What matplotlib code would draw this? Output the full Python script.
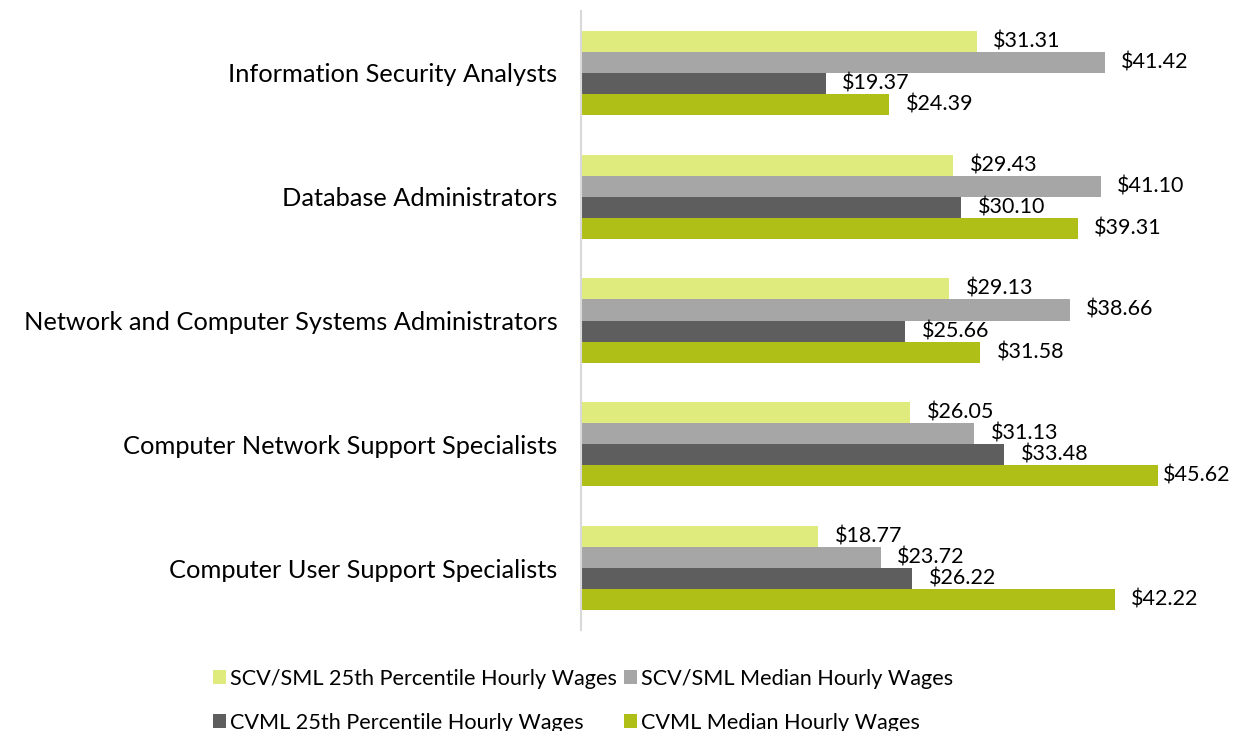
import matplotlib
matplotlib.use("Agg")
import matplotlib.pyplot as plt
import numpy as np

categories = ["Information Security Analysts", "Database Administrators",
              "Network and Computer Systems Administrators",
              "Computer Network Support Specialists",
              "Computer User Support Specialists"]
series_names = ["SCV/SML 25th Percentile Hourly Wages", "SCV/SML Median Hourly Wages",
                "CVML 25th Percentile Hourly Wages", "CVML Median Hourly Wages"]
scv_25 = [31.31, 29.43, 29.13, 26.05, 18.77]
scv_med = [41.42, 41.10, 38.66, 31.13, 23.72]
cvml_25 = [19.37, 30.10, 25.66, 33.48, 26.22]
cvml_med = [24.39, 39.31, 31.58, 45.62, 42.22]
colors = ["#E0EB7E", "#A6A6A6", "#5E5E5E", "#AFBF17"]

plt.rcParams['font.family'] = ['Lato', 'DejaVu Sans']

fig = plt.figure(figsize=(12.35, 7.31), dpi=100)
ax = fig.add_axes([581/1235, 101/731, 632/1235, 619/731])

data = [scv_25, scv_med, cvml_25, cvml_med]
n = len(categories)
y = np.arange(n)
h = 0.17
handles = []
for i, (vals, c, name) in enumerate(zip(data, colors, series_names)):
    pos = y + (i - 1.5) * h
    b = ax.barh(pos, vals, height=h, color=c, label=name)
    handles.append(b)
    for p, v in zip(pos, vals):
        ax.text(min(v + 1.3, 46.0), p, f"${v:.2f}", va="center", ha="left",
                fontsize=15.5, color="black",
                bbox=dict(facecolor="white", edgecolor="none", pad=0.3))

ax.set_ylim(n - 0.5, -0.5)
ax.set_xlim(0, 50)
ax.set_yticks(y)
ax.set_yticklabels(categories, fontsize=18.3)
ax.tick_params(axis="y", length=0, pad=17)
ax.set_xticks([])
for s in ["top", "right", "bottom"]:
    ax.spines[s].set_visible(False)
ax.spines["left"].set_color("#D9D9D9")
ax.spines["left"].set_linewidth(1.5)

order = [0, 2, 1, 3]
fig.legend([handles[i] for i in order], [series_names[i] for i in order],
           ncol=2, loc="upper left", bbox_to_anchor=(213/1235, 1 - 669/731),
           frameon=False, fontsize=15.6, handlelength=0.6, handleheight=0.6,
           handletextpad=0.2, columnspacing=0.3, labelspacing=1.1,
           borderaxespad=0, borderpad=0)

fig.savefig("out.png", dpi=100)
